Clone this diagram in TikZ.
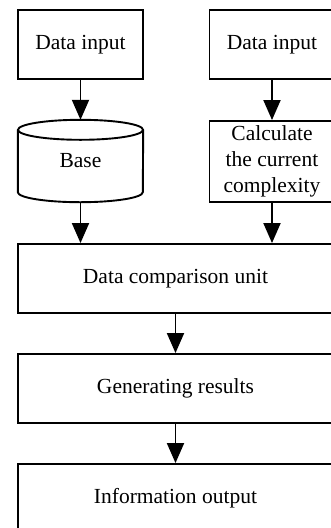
\documentclass[tikz,border=0pt]{standalone}
\usepackage{fontspec}
\setmainfont{Liberation Serif}
\usepackage{tikz}
\usetikzlibrary{arrows.meta,positioning}

\begin{document}
\begin{tikzpicture}[
  block/.style={draw, line width=1.9pt, minimum width=125pt, minimum height=69pt, inner sep=0pt, align=center, font=\fontsize{21.5}{26}\selectfont},
  wide/.style={block, minimum width=315pt},
  drum/.style={minimum width=125pt, minimum height=82pt, inner sep=0pt, font=\fontsize{21.5}{26}\selectfont},
  flow/.style={-{Triangle[length=20pt, width=17pt]}, line width=1.9pt},
  x=1pt, y=-1pt
]
\useasboundingbox (0,0) rectangle (331,528);

\node[block] (in1) at (80.5,44.5) {Data input};
\node[block] (in2) at (272,44.5) {Data input};
\node[drum] (base) at (80.5,161) {Base};
\node[block, minimum height=81pt] (calc) at (272,161.5) {Calculate\\the current\\complexity};
\node[wide] (cmp) at (175.5,278.5) {Data comparison unit};
\node[wide] (gen) at (175.5,388.5) {Generating results};
\node[wide] (out) at (175.5,498.5) {Information output};

% database drum
\draw[line width=1.9pt] ([yshift=-10pt]base.north) ellipse [x radius=62.5pt, y radius=10pt];
\draw[line width=1.9pt] ([yshift=-10pt]base.north west) -- ([yshift=10pt]base.south west)
  arc[start angle=180, end angle=360, x radius=62.5pt, y radius=10pt] -- ([yshift=-10pt]base.north east);

\draw[flow] (in1) -- (base);
\draw[flow] (in2) -- (calc);
\draw[flow] (base.south) -- (base.south |- cmp.north);
\draw[flow] (calc.south) -- (calc.south |- cmp.north);
\draw[flow] (cmp) -- (gen);
\draw[flow] (gen) -- (out);
\end{tikzpicture}
\end{document}
